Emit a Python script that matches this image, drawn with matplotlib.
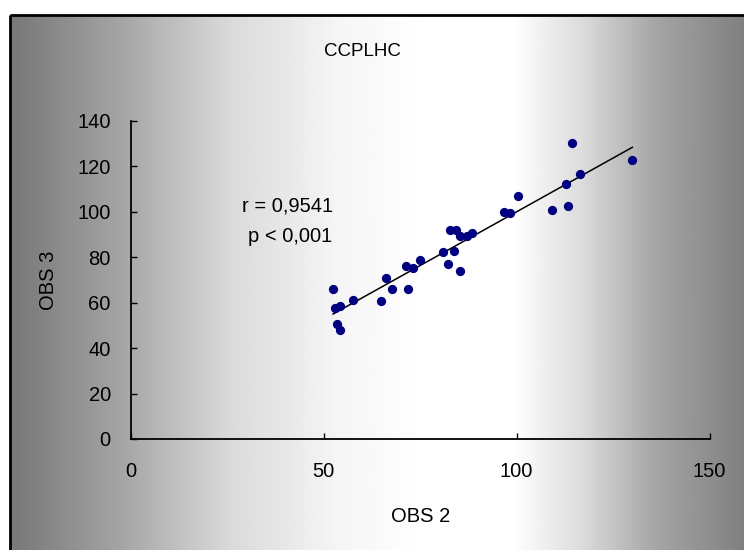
import numpy as np
import matplotlib
matplotlib.use("Agg")
from matplotlib import pyplot as plt
from matplotlib.patches import Rectangle

plt.rcParams['font.family'] = ['Liberation Sans', 'DejaVu Sans']

# values
obs2 = [52.4, 52.9, 54.2, 53.5, 54.2, 57.6, 64.7, 66.1, 67.6, 71.7, 71.3,
        73.2, 74.9, 81.0, 82.2, 83.8, 85.3, 82.7, 84.3, 85.3, 87.0, 88.3,
        96.7, 98.4, 100.3, 109.2, 113.3, 112.8, 114.4, 116.5, 130.0]
obs3 = [65.9, 57.4, 58.6, 50.8, 47.9, 61.1, 60.9, 70.7, 65.9, 65.9, 76.0,
        75.1, 78.6, 82.2, 76.9, 82.9, 74.1, 91.8, 91.8, 89.2, 89.2, 90.4,
        99.7, 99.4, 106.8, 100.6, 102.4, 112.0, 130.4, 116.4, 122.6]
xticks = [0, 50, 100, 150]
yticks = [0, 20, 40, 60, 80, 100, 120, 140]
title = "CCPLHC"
stats = ["r = 0,9541", "p < 0,001"]
fs = 14.5

W, H = 744, 550
fig = plt.figure(figsize=(W / 100, H / 100), dpi=100)

# gradient background of the chart area
bg = fig.add_axes([0, 0, 1, 1])
bg.set_xlim(0, W)
bg.set_ylim(H, 0)
bg.axis('off')
px = np.arange(W)
shade = np.interp(px, [10, 120, 220, 330, 420, 510, 580, 653, 744],
                  [0.48, 0.66, 0.85, 0.96, 1.0, 1.0, 0.86, 0.65, 0.5])
img = np.tile(shade, (2, 1))
bg.imshow(img, cmap='gray', vmin=0, vmax=1, aspect='auto',
          extent=(10, W, H, 15), interpolation='bilinear')
bg.add_patch(Rectangle((10, 15), W, H, fill=False, edgecolor='black', lw=2))

# plot area
l, r, b, t = 131, 709.5, 439, 120.7
ax = fig.add_axes([l / W, 1 - b / H, (r - l) / W, (b - t) / H])
ax.patch.set_alpha(0)
ax.set_xlim(0, 150)
ax.set_ylim(0, 140)
for s in ['top', 'right']:
    ax.spines[s].set_visible(False)
for s in ['left', 'bottom']:
    ax.spines[s].set_linewidth(1.3)
ax.set_xticks(xticks)
ax.set_yticks(yticks)
ax.tick_params(direction='in', length=4, width=1, labelsize=fs)
ax.tick_params(axis='x', pad=16.5)
ax.tick_params(axis='y', pad=14.5)

ax.scatter(obs2, obs3, s=32, color='#000080', zorder=3)
k, c = np.polyfit(obs2, obs3, 1)
xs = np.array([min(obs2), max(obs2)])
ax.plot(xs, k * xs + c, color='black', lw=1.1, zorder=2)

ax.text(52.3, 102.4, stats[0], ha='right', va='center', fontsize=fs)
ax.text(52.3, 88.9, stats[1], ha='right', va='center', fontsize=fs)
ax.set_xlabel("OBS 2", fontsize=fs, labelpad=19)
ax.set_ylabel("OBS 3", fontsize=fs, labelpad=14)
fig.text(362 / W, 1 - 51 / H, title, ha='center', va='center', fontsize=13.5)

fig.savefig("out.png", dpi=100)
